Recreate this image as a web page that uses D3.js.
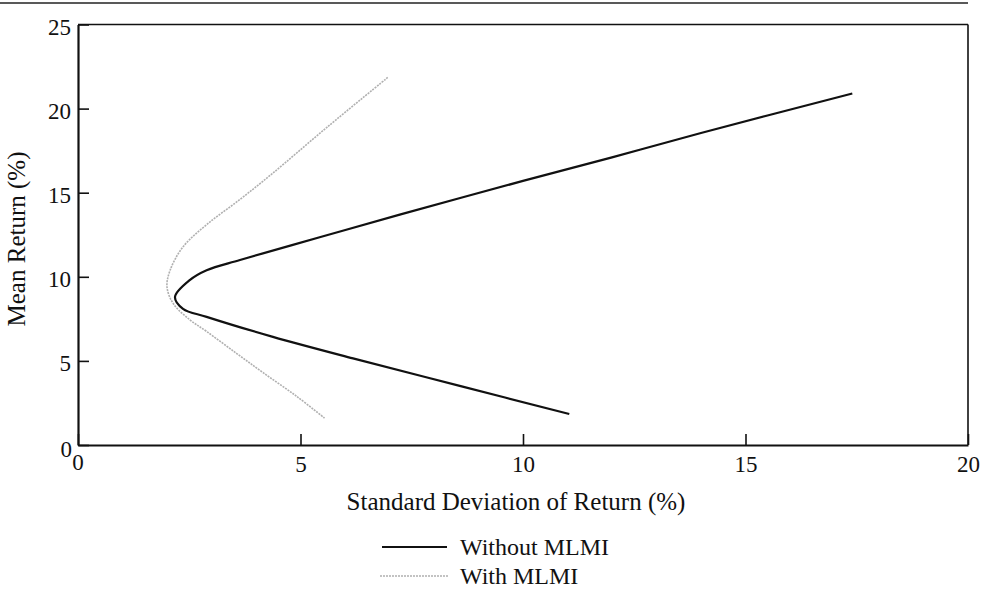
<!DOCTYPE html>
<html>
<head>
<meta charset="utf-8">
<script src="https://cdn.jsdelivr.net/npm/d3@7"></script>
<style>
  body { margin: 0; background: #fff; }
  text { font-family: "Liberation Serif", "DejaVu Serif", serif; fill: #111; }
</style>
</head>
<body>
<script>
// efficient frontiers (sd %, mean %)
var withoutSd   = [17.4, 14.0, 12.0, 10.0, 7.23, 5.43, 3.64, 2.89, 2.51, 2.18, 2.36, 2.89, 4.38, 6.18, 8.6, 11.04];
var withoutMean = [20.9, 18.55, 17.1, 15.7, 13.7, 12.35, 11.0, 10.39, 9.8, 8.8, 8.1, 7.62, 6.43, 5.15, 3.5, 1.84];
var withSd      = [6.96, 5.6, 4.35, 3.64, 2.89, 2.36, 2.07, 2.0, 2.14, 2.51, 2.89, 3.56, 4.16, 4.91, 5.54];
var withMean    = [21.85, 18.9, 16.1, 14.6, 13.1, 11.78, 10.39, 9.4, 8.41, 7.45, 6.75, 5.45, 4.3, 2.9, 1.6];
var xTicks = [0, 5, 10, 15, 20];
var yTicks = [0, 5, 10, 15, 20, 25];
var seriesNames = ["Without MLMI", "With MLMI"];

window.onload = function(){
    var width = 983, height = 590;
    var svg = d3.select("body").append("svg")
        .attr("width", width)
        .attr("height", height);

    var x = d3.scaleLinear().domain([0, 20]).range([78, 968]);
    var y = d3.scaleLinear().domain([0, 25]).range([445, 24.5]);

    // page rule at the top
    svg.append("line")
        .attr("x1", 0).attr("x2", 968)
        .attr("y1", 3).attr("y2", 3)
        .style("stroke", "#222").style("stroke-width", 1.5);

    // frame: top and right thinner
    svg.append("line").attr("x1", x(0)).attr("x2", x(20)).attr("y1", y(25)).attr("y2", y(25))
        .style("stroke", "#111").style("stroke-width", 1.6);
    svg.append("line").attr("x1", x(20)).attr("x2", x(20)).attr("y1", y(25)).attr("y2", y(0))
        .style("stroke", "#111").style("stroke-width", 1.6);

    // axes with inward ticks
    var xAxis = svg.append("g")
        .attr("transform", "translate(0," + y(0) + ")")
        .call(d3.axisBottom(x).tickValues(xTicks).tickSize(-11).tickSizeOuter(0).tickPadding(0)
            .tickFormat(function(d){ return d === 0 ? "" : d; }));
    var yAxis = svg.append("g")
        .attr("transform", "translate(" + x(0) + ",0)")
        .call(d3.axisLeft(y).tickValues(yTicks).tickSize(-11).tickSizeOuter(0).tickPadding(0)
            .tickFormat(function(d){ return d === 0 ? "" : d; }));

    [xAxis, yAxis].forEach(function(g){
        g.select(".domain").style("stroke", "#111").style("stroke-width", 2.2);
        g.selectAll(".tick line").style("stroke", "#111").style("stroke-width", 1.6);
        g.selectAll(".tick text").style("font-family", "Liberation Serif, serif")
            .style("font-size", "23px").style("fill", "#111");
    });
    xAxis.selectAll(".tick text").attr("y", 27).attr("dy", "0");
    yAxis.selectAll(".tick text").attr("x", -7).attr("y", 10).attr("dy", "0");

    // the two zeros at the origin
    svg.append("text").attr("x", 72).attr("y", 457)
        .attr("text-anchor", "end").style("font-size", "23px").text("0");
    svg.append("text").attr("x", 78).attr("y", 470)
        .attr("text-anchor", "middle").style("font-size", "23px").text("0");

    // axis titles
    svg.append("text")
        .attr("x", 516).attr("y", 510)
        .attr("text-anchor", "middle")
        .style("font-size", "25px")
        .text("Standard Deviation of Return (%)");
    svg.append("text")
        .attr("transform", "translate(25,239) rotate(-90)")
        .attr("text-anchor", "middle")
        .style("font-size", "25px")
        .text("Mean Return (%)");

    var line = d3.line()
        .x(function(d){ return x(d[0]); })
        .y(function(d){ return y(d[1]); })
        .curve(d3.curveCatmullRom.alpha(0.5));

    var withPts = d3.zip(withSd, withMean);
    var withoutPts = d3.zip(withoutSd, withoutMean);

    svg.append("path")
        .datum(withPts)
        .attr("d", line)
        .style("fill", "none")
        .style("stroke", "#b0b0b0")
        .style("stroke-width", 1.6)
        .style("stroke-dasharray", "2,1");

    svg.append("path")
        .datum(withoutPts)
        .attr("d", line)
        .style("fill", "none")
        .style("stroke", "#111")
        .style("stroke-width", 2.2);

    // legend
    var legendY = [547, 576];
    var legend = svg.append("g").attr("class", "legend");
    var rows = legend.selectAll("g").data(seriesNames).enter().append("g")
        .attr("transform", function(d, i){ return "translate(0," + legendY[i] + ")"; });
    rows.append("line")
        .attr("x1", function(d, i){ return i === 0 ? 382 : 380; })
        .attr("x2", function(d, i){ return i === 0 ? 447 : 448; })
        .attr("y1", 0).attr("y2", 0)
        .style("stroke", function(d, i){ return i === 0 ? "#111" : "#b0b0b0"; })
        .style("stroke-width", function(d, i){ return i === 0 ? 1.8 : 1.4; })
        .style("stroke-dasharray", function(d, i){ return i === 0 ? null : "2,1"; });
    rows.append("text")
        .attr("x", 460).attr("y", 8)
        .style("font-size", "24px")
        .text(function(d){ return d; });
};
</script>
</body>
</html>
